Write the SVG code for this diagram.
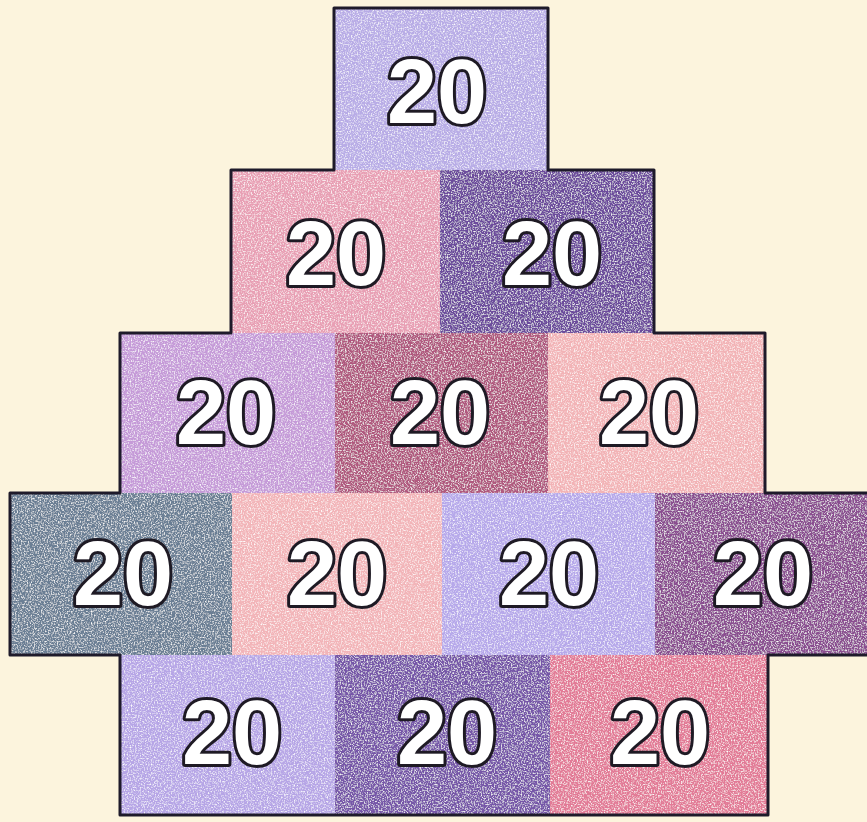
<svg xmlns="http://www.w3.org/2000/svg" width="867" height="822" viewBox="0 0 867 822">
<defs>
<filter id="crayon" x="0" y="0" width="100%" height="100%">
<feTurbulence type="fractalNoise" baseFrequency="0.7" numOctaves="2" seed="3" result="n"/>
<feColorMatrix in="n" type="matrix" values="0 0 0 0 1  0 0 0 0 1  0 0 0 0 1  2.4 0 0 0 -1.1" result="w"/>
<feComposite in="w" in2="SourceGraphic" operator="atop"/>
</filter>
</defs>
<style>
.num{font-family:"Liberation Sans",Arial,sans-serif;font-weight:bold;font-size:90px;fill:#fff;stroke:#1e1a24;stroke-width:6;paint-order:stroke fill;stroke-linejoin:round;text-anchor:middle;dominant-baseline:central}
.outline{fill:none;stroke:#1e1a2a;stroke-width:3;stroke-linejoin:round}
</style>
<rect width="867" height="822" fill="#fcf4dd"/>
<g id="fills" filter="url(#crayon)">
<g id="n1"><rect x="334" y="8" width="214" height="162" fill="#b8ace6"/></g>
<g id="n2"><rect x="231" y="170" width="209" height="163" fill="#e89fb4"/></g>
<g id="n3"><rect x="440" y="170" width="214" height="163" fill="#6c4c9c"/></g>
<g id="n4"><rect x="120" y="333" width="215" height="160" fill="#c59ad8"/></g>
<g id="n5"><rect x="335" y="333" width="213" height="160" fill="#b0587e"/></g>
<g id="n6"><rect x="548" y="333" width="217" height="160" fill="#f2b3b6"/></g>
<g id="n7"><rect x="10" y="493" width="222" height="162" fill="#6a7e94"/></g>
<g id="n8"><rect x="232" y="493" width="210" height="162" fill="#f2b4b8"/></g>
<g id="n9"><rect x="442" y="493" width="213" height="162" fill="#b6a8ea"/></g>
<g id="n10"><rect x="655" y="493" width="212" height="162" fill="#8a4e90"/></g>
<g id="n11"><rect x="120" y="655" width="215" height="160" fill="#b6a5e6"/></g>
<g id="n12"><rect x="335" y="655" width="215" height="160" fill="#7656a8"/></g>
<g id="n13"><rect x="550" y="655" width="218" height="160" fill="#e27a96"/></g>
</g>
<g id="connectors">
<path class="outline" d="M867 493 L765 493 L765 333 L654 333 L654 170 L548 170 L548 8 L334 8 L334 170 L231 170 L231 333 L120 333 L120 493 L10 493 L10 655 L120 655 L120 815 L768 815 L768 655 L867 655"/>
</g>
<g id="labels">
<text class="num" x="437" y="92">20</text>
<text class="num" x="336" y="254">20</text>
<text class="num" x="552" y="254">20</text>
<text class="num" x="226" y="413">20</text>
<text class="num" x="440" y="413">20</text>
<text class="num" x="649" y="413">20</text>
<text class="num" x="123" y="574">20</text>
<text class="num" x="337" y="574">20</text>
<text class="num" x="549" y="574">20</text>
<text class="num" x="763" y="574">20</text>
<text class="num" x="232" y="733">20</text>
<text class="num" x="447" y="733">20</text>
<text class="num" x="660" y="733">20</text>
</g>
</svg>
